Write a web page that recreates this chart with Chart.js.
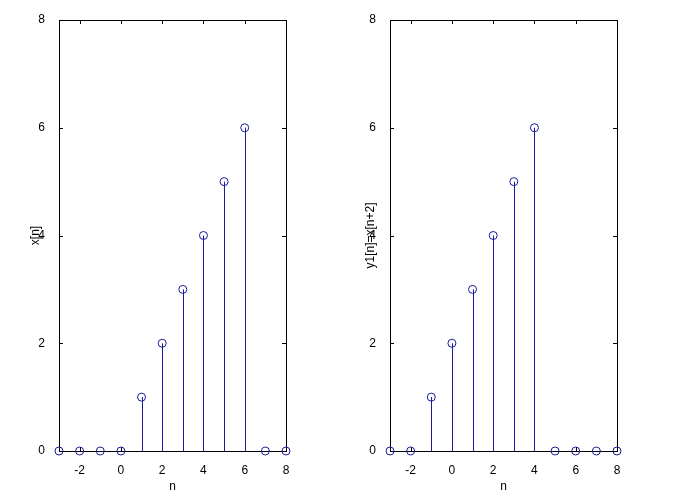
<!DOCTYPE html>
<html><head><script src="https://cdn.jsdelivr.net/npm/chart.js@4"></script>
<style>body{margin:0;background:#fff}canvas{position:absolute;top:0}</style></head>
<body><canvas id="c1" style="left:0" width="340" height="498"></canvas><canvas id="c2" style="left:340px" width="340" height="498"></canvas>
<script>
const nVals=[-3,-2,-1,0,1,2,3,4,5,6,7,8];
const xVals=[0,0,0,0,1,2,3,4,5,6,0,0];
const y1Vals=[0,0,1,2,3,4,5,6,0,0,0,0];
const xTicks=[-2,0,2,4,6,8];
const yTicks=[0,2,4,6,8];
const col='#1a1a9c';
const stemPlugin={id:'stem',beforeDatasetsDraw(ch){const c=ch.ctx,xs=ch.scales.x,ys=ch.scales.y,a=ch.chartArea;
 c.save();c.strokeStyle='#000';c.lineWidth=1;
 c.strokeRect(Math.round(a.left)+0.5,Math.round(a.top)+0.5,Math.round(a.width),Math.round(a.height));
 c.beginPath();
 xTicks.forEach(t=>{const px=Math.round(xs.getPixelForValue(t))+0.5;c.moveTo(px,a.bottom);c.lineTo(px,a.bottom-4);c.moveTo(px,a.top);c.lineTo(px,a.top+4);});
 yTicks.forEach(t=>{const py=Math.round(ys.getPixelForValue(t))+0.5;c.moveTo(a.left,py);c.lineTo(a.left+4,py);c.moveTo(a.right,py);c.lineTo(a.right-4,py);});
 c.stroke();
 c.strokeStyle=col;
 ch.data.datasets[0].data.forEach(p=>{if(p.y===0)return;const px=Math.round(xs.getPixelForValue(p.x))+0.5;c.beginPath();c.moveTo(px,ys.getPixelForValue(0));c.lineTo(px,ys.getPixelForValue(p.y));c.stroke();});
 c.restore();}};
const fnt={family:'Liberation Sans',size:12};
function make(id,vals,ylabel,lp,yw,rp){
 new Chart(document.getElementById(id),{type:'scatter',
 data:{datasets:[{data:nVals.map((n,i)=>({x:n,y:vals[i]})),borderColor:col,backgroundColor:'transparent',pointRadius:4,pointBorderWidth:1,clip:false}]},
 options:{responsive:false,animation:false,layout:{padding:{top:20,right:rp,left:lp,bottom:0}},
 plugins:{legend:{display:false},tooltip:{enabled:false}},
 scales:{x:{type:'linear',min:-3,max:8,afterBuildTicks(s){s.ticks=xTicks.map(v=>({value:v}))},afterFit(s){s.height=47},
  grid:{display:false},border:{display:false},ticks:{color:'#000',font:fnt,padding:4,maxRotation:0},
  title:{display:true,text:'n',color:'#000',font:fnt,padding:{top:1}}},
 y:{min:0,max:8,afterBuildTicks(s){s.ticks=yTicks.map(v=>({value:v}))},afterFit(s){s.width=yw},
  grid:{display:false},border:{display:false},ticks:{color:'#000',font:fnt,padding:6},
  title:{display:true,text:ylabel,color:'#000',font:fnt,padding:{bottom:0,top:0}}}}},
 plugins:[stemPlugin]});}
make('c1',xVals,'x[n]',28,31,54);
make('c2',y1Vals,'y1[n]=x[n+2]',23,27,63);
</script></body></html>
